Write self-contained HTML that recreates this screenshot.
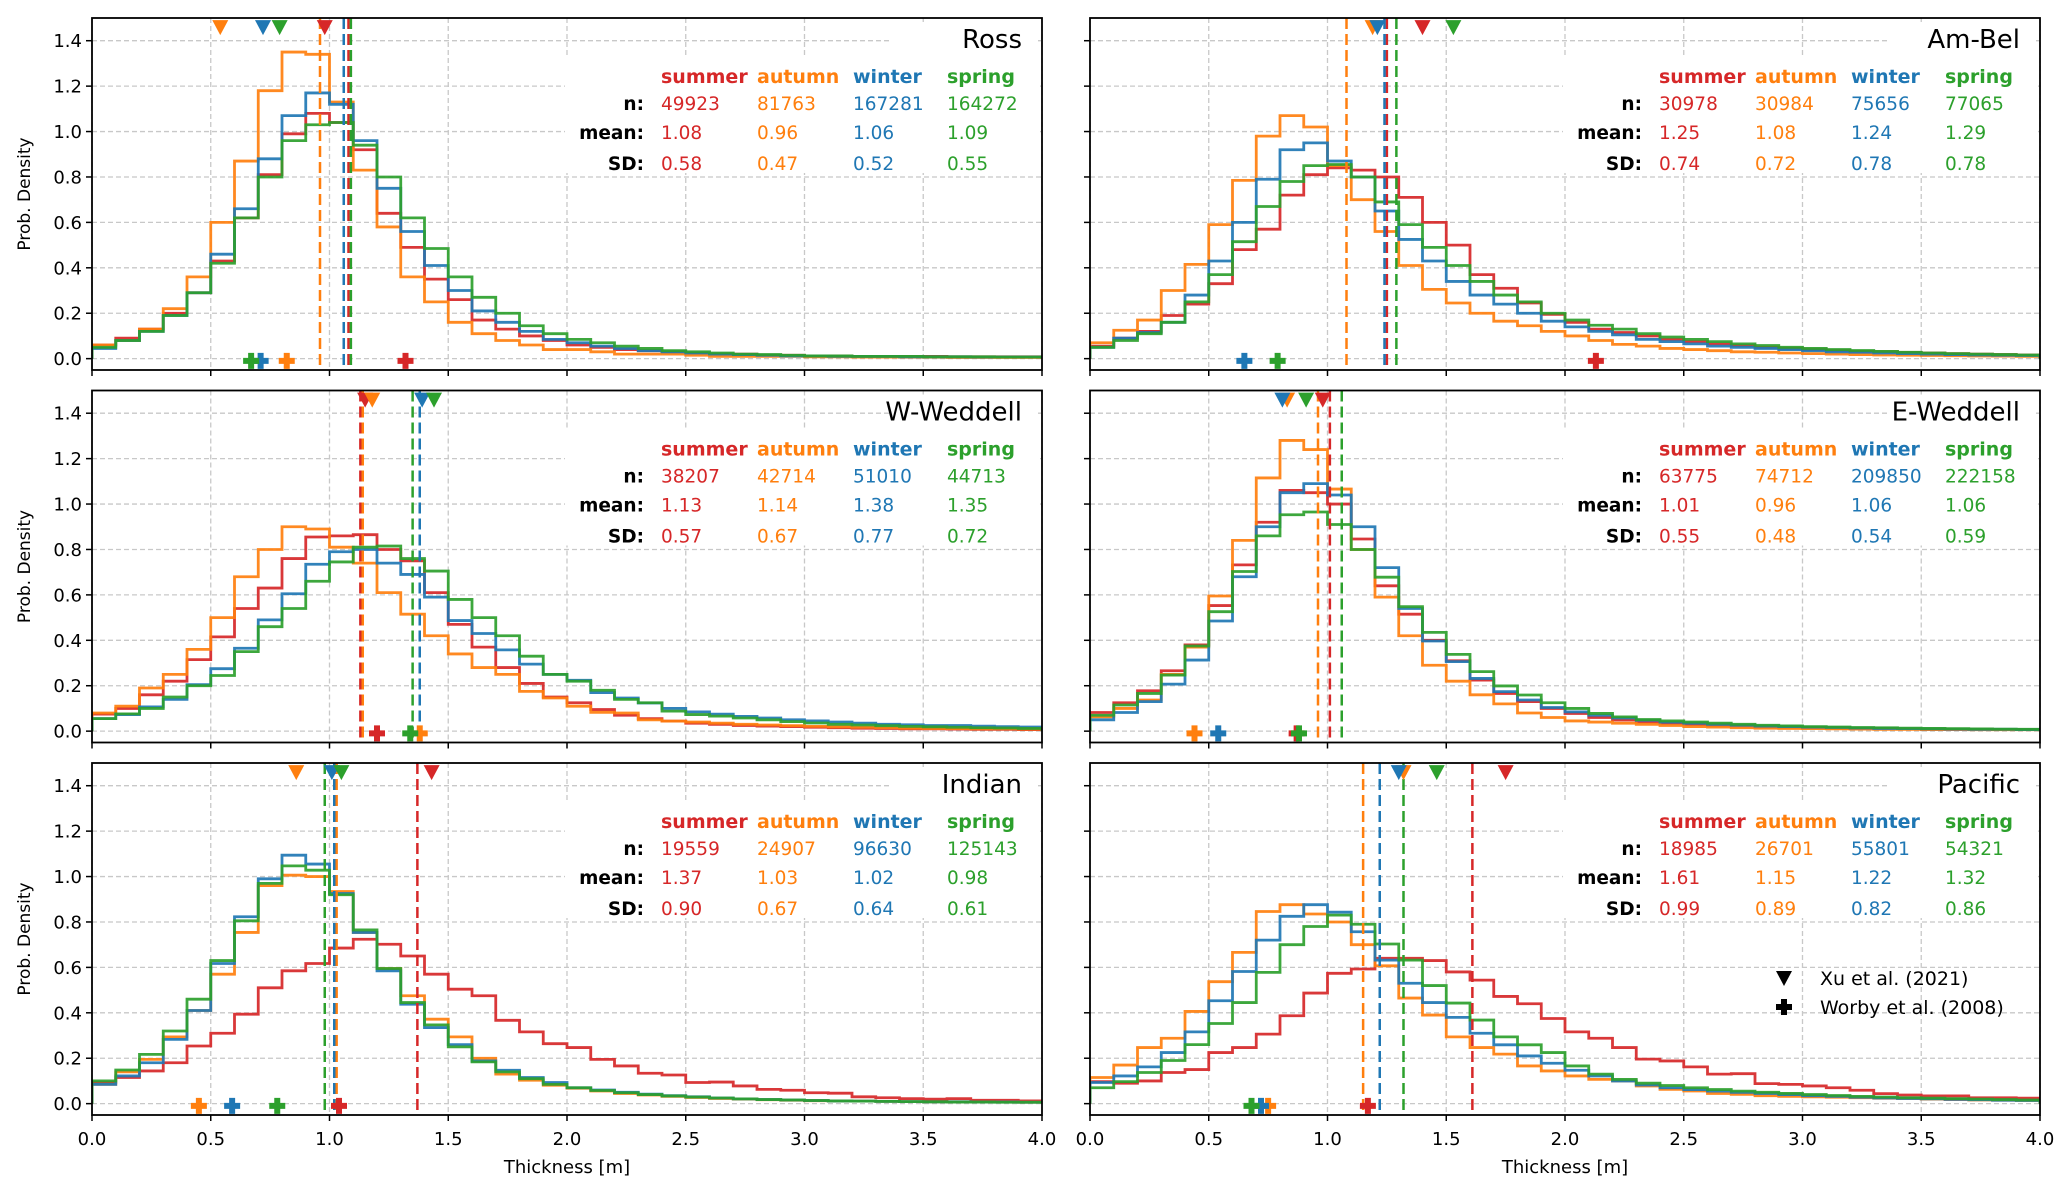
<!DOCTYPE html>
<html><head><meta charset="utf-8"><style>
html,body{margin:0;padding:0;background:#fff;}
svg{display:block;font-family:"DejaVu Sans","Liberation Sans",sans-serif;}
</style></head><body>
<svg id="fig" width="2067" height="1192" viewBox="0 0 2067 1192" xmlns="http://www.w3.org/2000/svg"></svg>
<script>
const seasons = ["summer","autumn","winter","spring"];
const colors = ["#d62728","#ff7f0e","#1f77b4","#2ca02c"];
const regions = ["Ross","Am-Bel","W-Weddell","E-Weddell","Indian","Pacific"];
const binWidth = 0.1;
const xTicks = [0,0.5,1,1.5,2,2.5,3,3.5,4];
const xTickLabels = ["0.0","0.5","1.0","1.5","2.0","2.5","3.0","3.5","4.0"];
const yTicks = [0,0.2,0.4,0.6,0.8,1.0,1.2,1.4];
const yTickLabels = ["0.0","0.2","0.4","0.6","0.8","1.0","1.2","1.4"];

const rossSummer=[0.06,0.09,0.13,0.20,0.29,0.43,0.62,0.81,0.99,1.08,1.04,0.92,0.64,0.49,0.35,0.26,0.17,0.13,0.10,0.08,0.06,0.05,0.04,0.035,0.03,0.025,0.02,0.02,0.015,0.015,0.012,0.012,0.01,0.01,0.01,0.01,0.008,0.008,0.008,0.008];
const rossAutumn=[0.06,0.08,0.13,0.22,0.36,0.60,0.87,1.18,1.35,1.34,1.13,0.83,0.58,0.36,0.25,0.16,0.11,0.08,0.06,0.04,0.04,0.03,0.02,0.02,0.02,0.015,0.01,0.01,0.01,0.01,0.008,0.008,0.007,0.007,0.006,0.006,0.005,0.005,0.005,0.005];
const rossWinter=[0.045,0.08,0.12,0.19,0.29,0.46,0.66,0.88,1.07,1.17,1.12,0.96,0.75,0.56,0.41,0.30,0.21,0.16,0.12,0.085,0.07,0.055,0.045,0.035,0.03,0.025,0.02,0.018,0.015,0.012,0.012,0.01,0.01,0.01,0.008,0.008,0.008,0.007,0.007,0.007];
const rossSpring=[0.05,0.08,0.12,0.19,0.29,0.42,0.62,0.80,0.96,1.03,1.04,0.94,0.80,0.62,0.485,0.36,0.27,0.20,0.145,0.11,0.085,0.07,0.055,0.045,0.035,0.03,0.025,0.02,0.018,0.015,0.012,0.012,0.01,0.01,0.01,0.008,0.008,0.008,0.007,0.007];

const ambelSummer=[0.055,0.09,0.12,0.19,0.24,0.33,0.48,0.57,0.72,0.81,0.84,0.83,0.80,0.71,0.60,0.50,0.37,0.31,0.245,0.195,0.16,0.13,0.115,0.10,0.085,0.075,0.065,0.058,0.05,0.045,0.04,0.036,0.032,0.03,0.027,0.025,0.022,0.02,0.018,0.016];
const ambelAutumn=[0.07,0.125,0.17,0.30,0.415,0.59,0.785,0.98,1.07,1.02,0.85,0.70,0.56,0.41,0.305,0.245,0.20,0.165,0.145,0.12,0.10,0.08,0.063,0.055,0.045,0.04,0.035,0.03,0.028,0.025,0.022,0.02,0.018,0.016,0.015,0.014,0.013,0.012,0.011,0.01];
const ambelWinter=[0.05,0.09,0.115,0.16,0.28,0.43,0.60,0.79,0.92,0.95,0.87,0.80,0.65,0.525,0.43,0.34,0.28,0.24,0.20,0.165,0.14,0.12,0.105,0.085,0.075,0.065,0.055,0.05,0.045,0.04,0.035,0.03,0.028,0.025,0.022,0.02,0.018,0.016,0.015,0.014];
const ambelSpring=[0.05,0.08,0.11,0.16,0.25,0.37,0.515,0.67,0.78,0.85,0.855,0.80,0.69,0.59,0.49,0.41,0.34,0.28,0.25,0.20,0.17,0.147,0.13,0.11,0.095,0.085,0.075,0.065,0.058,0.05,0.045,0.04,0.036,0.032,0.028,0.025,0.022,0.02,0.018,0.016];

const wwedSummer=[0.075,0.10,0.16,0.22,0.315,0.415,0.54,0.63,0.76,0.855,0.86,0.865,0.80,0.75,0.61,0.47,0.37,0.28,0.21,0.15,0.125,0.095,0.07,0.055,0.044,0.035,0.03,0.025,0.022,0.02,0.017,0.015,0.013,0.012,0.01,0.01,0.009,0.008,0.008,0.007];
const wwedAutumn=[0.08,0.11,0.19,0.25,0.36,0.50,0.68,0.80,0.90,0.89,0.81,0.74,0.61,0.515,0.42,0.34,0.28,0.25,0.175,0.146,0.11,0.083,0.08,0.05,0.044,0.04,0.035,0.03,0.027,0.024,0.021,0.019,0.017,0.015,0.013,0.012,0.011,0.01,0.01,0.009];
const wwedWinter=[0.055,0.073,0.107,0.14,0.205,0.275,0.365,0.49,0.605,0.735,0.79,0.80,0.74,0.69,0.59,0.487,0.43,0.358,0.295,0.25,0.224,0.17,0.146,0.124,0.10,0.085,0.075,0.065,0.058,0.05,0.045,0.04,0.035,0.03,0.028,0.025,0.025,0.022,0.02,0.018];
const wwedSpring=[0.055,0.076,0.10,0.15,0.20,0.245,0.35,0.46,0.54,0.66,0.745,0.81,0.815,0.76,0.705,0.58,0.50,0.42,0.33,0.25,0.22,0.18,0.14,0.125,0.088,0.073,0.066,0.058,0.05,0.042,0.036,0.03,0.027,0.024,0.021,0.019,0.017,0.015,0.014,0.012];

const ewedSummer=[0.082,0.125,0.178,0.266,0.38,0.553,0.732,0.92,1.06,1.05,1.0,0.846,0.64,0.515,0.40,0.31,0.225,0.166,0.13,0.10,0.078,0.06,0.049,0.04,0.035,0.03,0.025,0.022,0.019,0.017,0.015,0.013,0.012,0.011,0.01,0.009,0.008,0.008,0.007,0.007];
const ewedAutumn=[0.063,0.10,0.137,0.25,0.37,0.595,0.84,1.115,1.28,1.24,1.066,0.80,0.59,0.42,0.29,0.22,0.16,0.12,0.08,0.06,0.045,0.04,0.035,0.03,0.025,0.02,0.018,0.015,0.013,0.012,0.011,0.01,0.009,0.008,0.008,0.007,0.007,0.006,0.006,0.006];
const ewedWinter=[0.05,0.082,0.13,0.207,0.313,0.485,0.68,0.90,1.05,1.09,1.04,0.90,0.72,0.54,0.397,0.306,0.232,0.174,0.137,0.104,0.085,0.07,0.058,0.048,0.04,0.035,0.03,0.026,0.022,0.02,0.018,0.016,0.014,0.012,0.011,0.01,0.009,0.008,0.008,0.007];
const ewedSpring=[0.07,0.115,0.166,0.247,0.375,0.526,0.703,0.86,0.953,0.965,0.91,0.80,0.678,0.548,0.435,0.338,0.262,0.199,0.159,0.125,0.10,0.078,0.063,0.051,0.045,0.04,0.035,0.03,0.026,0.023,0.02,0.018,0.016,0.015,0.013,0.012,0.011,0.01,0.009,0.008];

const indSummer=[0.093,0.115,0.144,0.18,0.254,0.31,0.394,0.51,0.585,0.617,0.685,0.724,0.702,0.65,0.57,0.504,0.475,0.367,0.316,0.264,0.247,0.195,0.166,0.134,0.126,0.093,0.095,0.078,0.063,0.059,0.048,0.046,0.03,0.026,0.022,0.02,0.022,0.015,0.015,0.012];
const indAutumn=[0.085,0.14,0.195,0.294,0.41,0.57,0.754,0.96,1.006,1.0,0.934,0.754,0.595,0.475,0.372,0.294,0.20,0.13,0.103,0.081,0.068,0.056,0.045,0.038,0.032,0.027,0.023,0.02,0.017,0.015,0.013,0.012,0.011,0.01,0.009,0.008,0.008,0.007,0.007,0.006];
const indWinter=[0.085,0.122,0.18,0.283,0.41,0.617,0.823,0.99,1.094,1.055,0.925,0.754,0.585,0.438,0.335,0.26,0.188,0.147,0.115,0.093,0.07,0.06,0.05,0.042,0.035,0.03,0.025,0.021,0.018,0.016,0.014,0.012,0.011,0.01,0.009,0.008,0.008,0.007,0.007,0.006];
const indSpring=[0.10,0.148,0.217,0.32,0.46,0.63,0.805,0.97,1.047,1.028,0.92,0.765,0.595,0.445,0.347,0.25,0.184,0.14,0.11,0.085,0.07,0.058,0.048,0.04,0.034,0.029,0.025,0.021,0.018,0.016,0.014,0.012,0.011,0.01,0.009,0.008,0.007,0.007,0.006,0.006];

const pacSummer=[0.097,0.09,0.10,0.137,0.15,0.225,0.247,0.306,0.387,0.487,0.574,0.593,0.64,0.64,0.63,0.58,0.544,0.472,0.44,0.375,0.316,0.288,0.247,0.196,0.188,0.162,0.13,0.132,0.088,0.085,0.078,0.07,0.059,0.044,0.038,0.034,0.034,0.026,0.026,0.024];
const pacAutumn=[0.115,0.17,0.247,0.288,0.406,0.537,0.666,0.846,0.876,0.835,0.80,0.70,0.607,0.465,0.39,0.294,0.247,0.218,0.166,0.144,0.122,0.107,0.10,0.078,0.063,0.056,0.045,0.041,0.035,0.032,0.03,0.028,0.026,0.024,0.022,0.02,0.018,0.016,0.015,0.014];
const pacWinter=[0.093,0.122,0.162,0.225,0.316,0.453,0.582,0.72,0.825,0.876,0.843,0.757,0.632,0.53,0.445,0.38,0.31,0.259,0.21,0.178,0.147,0.122,0.10,0.082,0.07,0.062,0.055,0.05,0.045,0.04,0.035,0.032,0.028,0.025,0.023,0.021,0.019,0.017,0.015,0.014];
const pacSpring=[0.07,0.097,0.137,0.19,0.26,0.353,0.445,0.578,0.70,0.78,0.83,0.79,0.703,0.632,0.52,0.443,0.368,0.294,0.259,0.225,0.166,0.13,0.107,0.09,0.08,0.07,0.062,0.055,0.05,0.045,0.04,0.036,0.032,0.029,0.026,0.024,0.022,0.02,0.018,0.016];

const hists = [
  [rossSummer,rossAutumn,rossWinter,rossSpring],
  [ambelSummer,ambelAutumn,ambelWinter,ambelSpring],
  [wwedSummer,wwedAutumn,wwedWinter,wwedSpring],
  [ewedSummer,ewedAutumn,ewedWinter,ewedSpring],
  [indSummer,indAutumn,indWinter,indSpring],
  [pacSummer,pacAutumn,pacWinter,pacSpring]
];
const counts = [
  ["49923","81763","167281","164272"],
  ["30978","30984","75656","77065"],
  ["38207","42714","51010","44713"],
  ["63775","74712","209850","222158"],
  ["19559","24907","96630","125143"],
  ["18985","26701","55801","54321"]
];
const means = [
  [1.08,0.96,1.06,1.09],
  [1.25,1.08,1.24,1.29],
  [1.13,1.14,1.38,1.35],
  [1.01,0.96,1.06,1.06],
  [1.37,1.03,1.02,0.98],
  [1.61,1.15,1.22,1.32]
];
const sds = [
  [0.58,0.47,0.52,0.55],
  [0.74,0.72,0.78,0.78],
  [0.57,0.67,0.77,0.72],
  [0.55,0.48,0.54,0.59],
  [0.90,0.67,0.64,0.61],
  [0.99,0.89,0.82,0.86]
];
const xuMeans = [
  [0.98,0.54,0.72,0.79],
  [1.40,1.19,1.21,1.53],
  [1.15,1.18,1.39,1.44],
  [0.98,0.83,0.81,0.91],
  [1.43,0.86,1.01,1.05],
  [1.75,1.32,1.30,1.46]
];
const worbyMeans = [
  [1.32,0.82,0.71,0.67],
  [2.13,null,0.65,0.79],
  [1.20,1.38,null,1.34],
  [0.87,0.44,0.54,0.88],
  [1.04,0.45,0.59,0.78],
  [1.17,0.75,0.72,0.68]
];

const NS="http://www.w3.org/2000/svg";
const svg=document.getElementById('fig');
function mk(tag,attrs,parent){const e=document.createElementNS(NS,tag);for(const k in attrs)e.setAttribute(k,attrs[k]);(parent||svg).appendChild(e);return e;}

const PW=950, PH=352;
const lefts=[92,1090], tops=[18,390.5,763];
const XMIN=0,XMAX=4,YMIN=-0.05,YMAX=1.5;

regions.forEach((reg,ri)=>{
  const col=ri%2,row=Math.floor(ri/2);
  const L=lefts[col],T=tops[row];
  const xs=v=>L+(v-XMIN)/(XMAX-XMIN)*PW;
  const ys=v=>T+(YMAX-v)/(YMAX-YMIN)*PH;
  const g=mk('g',{});
  
  
  const cid='clip'+ri;
  const cp=mk('clipPath',{id:cid},g);mk('rect',{x:L,y:T,width:PW,height:PH},cp);
  // grid
  xTicks.forEach(t=>{const l=mk('line',{x1:xs(t),x2:xs(t),y1:T,y2:T+PH,stroke:'#c8c8c8','stroke-width':1.3,'stroke-dasharray':'5,3'},g);
    });
  yTicks.forEach(t=>{const l=mk('line',{x1:L,x2:L+PW,y1:ys(t),y2:ys(t),stroke:'#c8c8c8','stroke-width':1.3,'stroke-dasharray':'5,3'},g);
    });
  // table and title backgrounds
  mk('rect',{x:L+473,y:T+39,width:PW-475,height:116,fill:'#fff'},g);
  mk('rect',{x:L+PW-150,y:T+4,width:146,height:33,fill:'#fff'},g);
  // histograms
  const hg=mk('g',{'clip-path':'url(#'+cid+')'},g);
  hists[ri].forEach((vals,si)=>{
    let d='M'+xs(0)+','+ys(0);
    vals.forEach((v,i)=>{d+=' L'+xs(i*binWidth)+','+ys(v)+' L'+xs((i+1)*binWidth)+','+ys(v);});
    d+=' L'+xs(vals.length*binWidth)+','+ys(0);
    const p=mk('path',{d:d,fill:'none',stroke:colors[si],'stroke-width':2.8,'stroke-opacity':0.92,'stroke-linejoin':'miter'},hg);
    
    
  });
  // mean lines
  means[ri].forEach((m,si)=>{
    const l=mk('line',{x1:xs(m),x2:xs(m),y1:T,y2:T+PH,stroke:colors[si],'stroke-width':2.5,'stroke-dasharray':'11,5'},g);
    
    
  });
  // Xu triangles
  xuMeans[ri].forEach((m,si)=>{
    const cx=xs(m),cy=ys(1.46);
    const p=mk('path',{d:`M${cx-8},${cy-7} L${cx+8},${cy-7} L${cx},${cy+8} Z`,fill:colors[si]},g);
    
    
  });
  // Worby plus
  worbyMeans[ri].forEach((m,si)=>{
    if(m===null)return;
    const cx=xs(m),cy=ys(-0.01);
    const p=mk('path',{d:`M${cx-3},${cy-8} h6 v5 h5 v6 h-5 v5 h-6 v-5 h-5 v-6 h5 Z`,fill:colors[si]},g);
    
    
  });
  // spine
  const sp=mk('rect',{x:L,y:T,width:PW,height:PH,fill:'none',stroke:'#000','stroke-width':1.8},g);
  
  
  // ticks
  xTicks.forEach((t,i)=>{mk('line',{x1:xs(t),x2:xs(t),y1:T+PH,y2:T+PH+6,stroke:'#000','stroke-width':1.5},g);
    if(row===2){const tx=mk('text',{x:xs(t),y:T+PH+30,'font-size':18,'text-anchor':'middle',fill:'#000'},g);tx.textContent=xTickLabels[i];
      }});
  yTicks.forEach((t,i)=>{mk('line',{x1:L-6,x2:L,y1:ys(t),y2:ys(t),stroke:'#000','stroke-width':1.5},g);
    if(col===0){const tx=mk('text',{x:L-10,y:ys(t)+6.5,'font-size':18,'text-anchor':'end',fill:'#000'},g);tx.textContent=yTickLabels[i];
      }});
  if(col===0){const yl=mk('text',{x:0,y:0,'font-size':17,'text-anchor':'middle',transform:`translate(30,${T+PH/2}) rotate(-90)`},g);yl.textContent='Prob. Density';
    }
  if(row===2){const xl=mk('text',{x:L+PW/2,y:T+PH+58,'font-size':18,'text-anchor':'middle'},g);xl.textContent='Thickness [m]';
    }
  // title
  const tt=mk('text',{x:L+PW-20,y:T+30,'font-size':26,'text-anchor':'end'},g);tt.textContent=reg;
  
  // stats table
  const colX=[569,665,761,855];
  seasons.forEach((s,si)=>{
    const h=mk('text',{x:L+colX[si],y:T+65,'font-size':19,'font-weight':'bold',fill:colors[si]},g);h.textContent=s;
    
    const n=mk('text',{x:L+colX[si],y:T+92,'font-size':18.5,fill:colors[si]},g);n.textContent=counts[ri][si];
    
    const mt=mk('text',{x:L+colX[si],y:T+121,'font-size':18.5,fill:colors[si]},g);mt.textContent=means[ri][si].toFixed(2);
    
    const sd=mk('text',{x:L+colX[si],y:T+152,'font-size':18.5,fill:colors[si]},g);sd.textContent=sds[ri][si].toFixed(2);
    
  });
  [['n:',92],['mean:',121],['SD:',152]].forEach(([lab,dy])=>{
    const t=mk('text',{x:L+552,y:T+dy,'font-size':18.5,'font-weight':'bold','text-anchor':'end'},g);t.textContent=lab;
    
  });
});
// legend in Pacific panel
const lg=mk('g',{});


mk('path',{d:'M1776,971 L1792,971 L1784,986 Z',fill:'#000'},lg);
const l1=mk('text',{x:1820,y:985,'font-size':19},lg);l1.textContent='Xu et al. (2021)';


mk('path',{d:'M1781,999 h6 v5 h5 v6 h-5 v5 h-6 v-5 h-5 v-6 h5 Z',fill:'#000'},lg);
const l2=mk('text',{x:1820,y:1014,'font-size':19},lg);l2.textContent='Worby et al. (2008)';


</script>
</body></html>
